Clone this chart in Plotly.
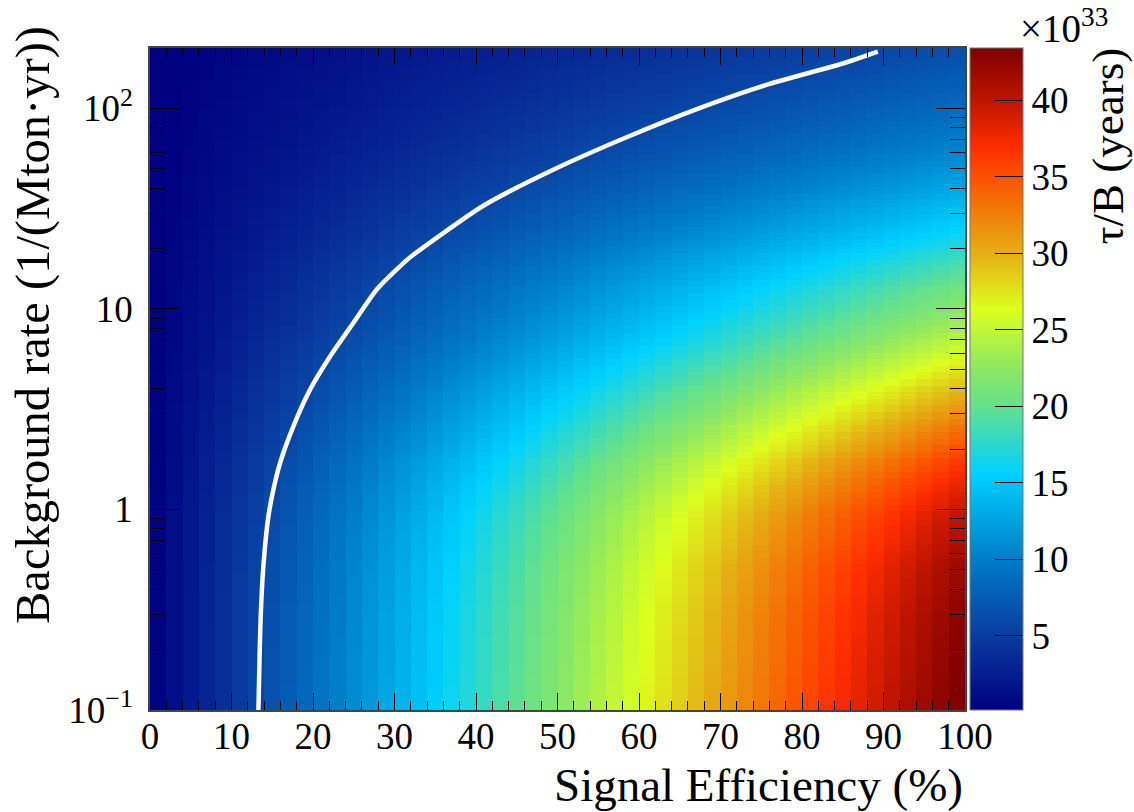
import numpy as np
import plotly.graph_objects as go

# ---------------- data ----------------
# signal efficiency bins (%), 2 % wide
eff_edges = list(range(0, 101, 2))
eff_centers = [e + 1 for e in range(0, 100, 2)]

# background-rate bins: 100 logarithmic bins from 0.1 to 200 /(Mton yr)
bg_edges = np.logspace(-1, np.log10(200), 101)

# tau/B (x1e33 years) at 100 % efficiency, one value per background-rate row
# (bottom row first); each cell scales linearly with signal efficiency
tau_full_eff = [
    43.95, 43.89, 43.82, 43.75, 43.69, 43.62, 43.56, 43.49, 43.43, 43.37,
    43.30, 43.24, 43.17, 43.11, 43.01, 42.89, 42.76, 42.61, 42.48, 42.36,
    42.24, 42.09, 41.88, 41.61, 41.37, 41.14, 40.91, 40.68, 40.46, 40.15,
    39.74, 39.34, 38.95, 38.51, 38.01, 37.52, 37.05, 36.52, 35.87, 35.22,
    34.62, 34.03, 33.45, 32.79, 32.13, 31.50, 30.89, 30.30, 29.71, 28.99,
    28.30, 27.65, 27.02, 26.42, 25.77, 25.14, 24.55, 23.99, 23.44, 22.91,
    22.41, 21.94, 21.48, 21.04, 20.44, 19.88, 19.35, 18.82, 18.27, 17.64,
    17.05, 16.49, 15.97, 15.48, 15.02, 14.58, 14.12, 13.60, 13.12, 12.68,
    12.26, 11.87, 11.45, 11.05, 10.68, 10.34, 10.01, 9.68, 9.36, 9.07,
    8.79, 8.51, 8.23, 7.97, 7.72, 7.44, 7.18, 6.93, 6.73, 6.54,
]

# white curve (current limit contour)
line_eff = [13.3, 13.58, 13.9, 14.52, 15.13, 15.95, 17.58, 19.63, 22.09, 24.94,
            27.82, 30.67, 32.07, 40.85, 49.6, 58.4, 67.1, 75.9, 84.7, 89.3]
line_bg = [0.1, 0.29, 0.516, 0.918, 1.25, 1.70, 2.59, 3.95, 5.79, 8.51,
           12.5, 16.3, 18.3, 32.6, 49.7, 71.6, 99.2, 132, 166, 192]

x_ticks = list(range(0, 101, 10))
y_ticks = [0.1, 1, 10, 100]
y_ticktext = ["10<sup>\u22121</sup>", "1", "10", "10<sup>2</sup>"]
y_minor = [m * d for d in (0.1, 1, 10) for m in range(2, 10)] + [200]
cb_ticks = [5, 10, 15, 20, 25, 30, 35, 40]

z = [[g * e / 100.0 for e in eff_centers] for g in tau_full_eff]

colorscale = [
    [0.000, "rgb(0,0,128)"],
    [0.112, "rgb(10,60,160)"],
    [0.228, "rgb(0,125,200)"],
    [0.359, "rgb(0,210,255)"],
    [0.459, "rgb(100,225,140)"],
    [0.514, "rgb(140,232,100)"],
    [0.605, "rgb(220,255,30)"],
    [0.690, "rgb(228,175,20)"],
    [0.800, "rgb(250,85,0)"],
    [0.850, "rgb(255,45,0)"],
    [0.921, "rgb(190,20,0)"],
    [1.000, "rgb(128,0,0)"],
]

FONT = "Liberation Serif, Times New Roman, serif"

fig = go.Figure()
fig.add_trace(go.Heatmap(
    x=eff_edges, y=bg_edges, z=z,
    colorscale=colorscale, zmin=0.16, zmax=43.4, zsmooth=False,
    colorbar=dict(
        x=(970 - 150) / 815, xanchor="left", xpad=0, ypad=0,
        y=0.5, yanchor="middle", len=1, lenmode="fraction",
        thickness=53, thicknessmode="pixels",
        outlinewidth=1, outlinecolor="#777",
        tickvals=cb_ticks, ticks="inside", ticklen=28, tickcolor="black",
        tickfont=dict(family=FONT, size=37, color="black"),
    ),
    hoverinfo="skip",
))
fig.add_trace(go.Scatter(
    x=line_eff, y=line_bg, mode="lines",
    line=dict(color="white", width=4.5, shape="spline", smoothing=0.6),
    showlegend=False, hoverinfo="skip",
))

fig.update_layout(
    width=1134, height=812, autosize=False,
    margin=dict(l=150, r=169, t=48, b=102, pad=0),
    paper_bgcolor="white", plot_bgcolor="white",
    font=dict(family=FONT, color="black"),
    showlegend=False,
    xaxis=dict(
        range=[0, 100], tickvals=x_ticks, ticks="inside", ticklen=17,
        tickcolor="black", tickwidth=1,
        minor=dict(dtick=2, ticks="inside", ticklen=9, tickcolor="black", showgrid=False),
        mirror="ticks", showline=True, linecolor="#444", linewidth=1.5,
        showgrid=False, zeroline=False,
        tickfont=dict(family=FONT, size=37, color="black"),
        ticklabelstandoff=-7,
    ),
    yaxis=dict(
        type="log", range=[-1, np.log10(200)],
        tickvals=y_ticks, ticktext=y_ticktext, ticks="inside", ticklen=29,
        tickcolor="black", tickwidth=1,
        minor=dict(tickvals=y_minor, ticks="inside", ticklen=15, tickcolor="black", showgrid=False),
        mirror="ticks", showline=True, linecolor="#444", linewidth=1.5,
        showgrid=False, zeroline=False,
        tickfont=dict(family=FONT, size=37, color="black"),
        ticklabelstandoff=8,
    ),
    annotations=[
        dict(text="Signal Efficiency (%)", xref="paper", yref="paper",
             x=1.0, y=(710 - 785) / 662, xanchor="right", yanchor="middle",
             showarrow=False, font=dict(family=FONT, size=47, color="black")),
        dict(text="Background rate (1/(Mton\u00b7yr))", xref="paper", yref="paper",
             x=(33 - 150) / 815, y=(710 - 24) / 662, xanchor="center", yanchor="top",
             textangle=-90, showarrow=False,
             font=dict(family=FONT, size=48.5, color="black")),
        dict(text="\u03c4/B (years)", xref="paper", yref="paper",
             x=(1108 - 150) / 815, y=(710 - 46) / 662, xanchor="center", yanchor="top",
             textangle=-90, showarrow=False,
             font=dict(family=FONT, size=45, color="black")),
        dict(text="\u00d710<sup>33</sup>", xref="paper", yref="paper",
             x=(1018 - 150) / 815, y=(710 - 52) / 662, xanchor="left", yanchor="bottom",
             showarrow=False, font=dict(family=FONT, size=39, color="black")),
    ],
)

fig.write_html("out.html", config={"displayModeBar": False},
               post_script="document.body.style.margin='0';")
